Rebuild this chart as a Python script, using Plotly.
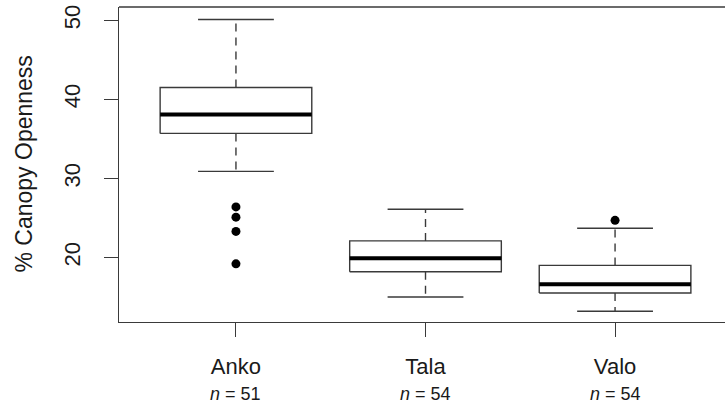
import plotly.graph_objects as go

categories = ["Anko", "Tala", "Valo"]
n_obs = [51, 54, 54]
lower_whisker = [30.9, 15.0, 13.2]
q1 = [35.7, 18.2, 15.5]
median = [38.1, 19.9, 16.6]
q3 = [41.5, 22.1, 19.0]
upper_whisker = [50.1, 26.1, 23.7]
outliers = [[26.4, 25.1, 23.3, 19.2], [], [24.7]]
y_ticks = [20, 30, 40, 50]

LINE = "#3a3a3a"
TEXT = "#1a1a1a"
FONT = "Liberation Sans, Arial, Helvetica, sans-serif"
half_box = 0.4
half_cap = 0.2

fig = go.Figure()
for i, cat in enumerate(categories):
    x0 = i + 1
    fig.add_trace(go.Scatter(
        x=[x0 - half_box, x0 + half_box, x0 + half_box, x0 - half_box, x0 - half_box],
        y=[q1[i], q1[i], q3[i], q3[i], q1[i]],
        mode="lines", line=dict(color=LINE, width=1.4), fill="toself",
        fillcolor="white", hoverinfo="skip", showlegend=False))
    fig.add_trace(go.Scatter(
        x=[x0, x0, None, x0, x0],
        y=[q3[i], upper_whisker[i], None, q1[i], lower_whisker[i]],
        mode="lines", line=dict(color=LINE, width=1.4, dash="8px,6px"),
        hoverinfo="skip", showlegend=False))
    fig.add_trace(go.Scatter(
        x=[x0 - half_cap, x0 + half_cap, None, x0 - half_cap, x0 + half_cap],
        y=[upper_whisker[i], upper_whisker[i], None, lower_whisker[i], lower_whisker[i]],
        mode="lines", line=dict(color=LINE, width=1.4),
        hoverinfo="skip", showlegend=False))
    fig.add_trace(go.Scatter(
        x=[x0 - half_box, x0 + half_box], y=[median[i], median[i]],
        mode="lines", line=dict(color="#000000", width=4),
        hoverinfo="skip", showlegend=False))
    if outliers[i]:
        fig.add_trace(go.Scatter(
            x=[x0] * len(outliers[i]), y=outliers[i], mode="markers",
            marker=dict(color="black", size=9, line=dict(width=0)),
            hoverinfo="skip", showlegend=False))

annotations = [dict(text="% Canopy Openness", textangle=-90, xref="paper",
                    yref="paper", x=0, y=0.5, xshift=-96, xanchor="center",
                    yanchor="middle", showarrow=False,
                    font=dict(size=23, family=FONT, color=TEXT))]
for i, n in enumerate(n_obs):
    annotations.append(dict(text=f"<i>n</i> = {n}", xref="x", yref="paper",
                            x=i + 1, y=0, yshift=-72, yanchor="middle",
                            showarrow=False,
                            font=dict(size=18, family=FONT, color=TEXT)))

fig.update_layout(
    width=725, height=404,
    margin=dict(l=119, r=0, t=7, b=82),
    plot_bgcolor="white", paper_bgcolor="white",
    font=dict(family=FONT, size=22, color=TEXT),
    xaxis=dict(range=[0.383, 3.58], tickvals=[1, 2, 3], ticktext=categories,
               showgrid=False, zeroline=False, showline=True, linecolor=LINE,
               linewidth=1.4, ticks="outside", ticklen=14, tickcolor=LINE,
               tickwidth=1.4, tickfont=dict(size=22), ticklabelstandoff=10,
               automargin=False),
    yaxis=dict(range=[11.84, 51.69], tickvals=y_ticks, showgrid=False,
               zeroline=False, showline=True, linecolor=LINE, linewidth=1.4,
               ticks="outside", ticklen=14, tickcolor=LINE, tickwidth=1.4,
               tickangle=-90, tickfont=dict(size=22), ticklabelstandoff=15,
               automargin=False),
    annotations=annotations,
    shapes=[dict(type="line", xref="paper", yref="paper", x0=0, x1=1, y0=1, y1=1,
                 line=dict(color=LINE, width=1.4))],
)

fig.write_html("out.html", config={"displayModeBar": False},
               post_script="document.body.style.margin='0';")
